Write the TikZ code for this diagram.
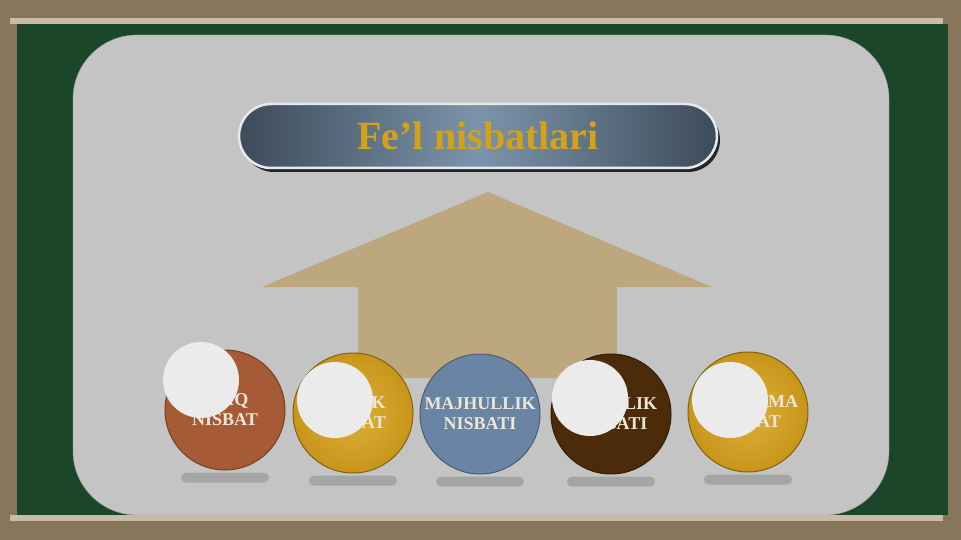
\documentclass[tikz,border=0pt]{standalone}
\usepackage{fontspec}
\setmainfont{Liberation Serif}
\usepackage{tikz}
\usetikzlibrary{shapes.misc,shadows,positioning}

\definecolor{frame}{HTML}{877659}
\definecolor{strip}{HTML}{C9BCA7}
\definecolor{board}{HTML}{1B4629}
\definecolor{paper}{HTML}{C4C4C4}
\definecolor{slate}{HTML}{3D4B59}
\definecolor{steel}{HTML}{7B94AB}
\definecolor{titlegold}{HTML}{D4A218}
\definecolor{arrowtan}{HTML}{BCA77E}
\definecolor{rust}{HTML}{A65A35}
\definecolor{amber}{HTML}{C8951A}
\definecolor{amberlight}{HTML}{DDB03A}
\definecolor{denim}{HTML}{6985A3}
\definecolor{umber}{HTML}{4B2B09}
\definecolor{cream}{HTML}{EEE7D8}
\definecolor{hole}{HTML}{EBEBEB}

\begin{document}
\begin{tikzpicture}[x=1pt,y=-1pt,
		ball/.style={circle, minimum size=120pt, inner sep=0pt, align=center,
			text=cream, font=\bfseries\fontsize{18}{20}\selectfont},
		flatball/.style={ball, fill=#1, draw=#1!70!black, line width=1pt},
		shinyball/.style={ball, inner color=amberlight, outer color=amber, draw=amber!65!black, line width=1pt},
		blob/.style={rounded rectangle, minimum width=88pt, minimum height=10pt, inner sep=0pt,
			fill=black!50, opacity=.45},
		patch/.style={circle, minimum size=76pt, inner sep=0pt, fill=hole},]
	\useasboundingbox (0,0) rectangle (961,540);
	\fill[frame] (0,0) rectangle (961,540);
	\fill[strip] (10,18) rectangle (943,24);
	\fill[strip] (10,515) rectangle (943,521);
	\fill[board] (17,24) rectangle (948,515);
	\draw[fill=paper, draw=gray!75, rounded corners=64pt] (73,35) rectangle (889,515);

	% big arrow behind the balls
	\fill[arrowtan] (488,192) -- (712,287) -- (617,287) -- (617,378) -- (358,378) -- (358,287) -- (262,287) -- cycle;

	\node[rounded rectangle, minimum width=478pt, minimum height=64pt, inner sep=0pt,
		left color=slate, right color=slate, middle color=steel, draw=white!80!steel, line width=2.5pt,
		drop shadow={shadow xshift=3pt, shadow yshift=-4pt, fill=black!85, opacity=1},
		text=titlegold, font=\bfseries\fontsize{40}{44}\selectfont] at (478,136) (title) {Fe’l nisbatlari};

	\node[flatball=rust] at (225,410) (aniq) {ANIQ\\NISBAT};
	\node[shinyball] at (353,413) (ozlik) {O‘ZLIK\\NISBAT};
	\node[flatball=denim] at (480,414) (majhul) {MAJHULLIK\\NISBATI};
	\node[flatball=umber] at (611,414) (birga) {BIRGALIK\\NISBATI};
	\node[shinyball] at (748,412) (orttir) {ORTTIRMA\\NISBAT};

	\node[blob, below=2pt of aniq] (aniqs) {};
	\node[blob, below=2pt of ozlik] (ozliks) {};
	\node[blob, below=2pt of majhul] (majhuls) {};
	\node[blob, below=2pt of birga] (birgas) {};
	\node[blob, below=2pt of orttir] (orttirs) {};

	\node[patch] at (201,380) (p1) {};
	\node[patch] at (335,400) (p2) {};
	\node[patch] at (590,398) (p3) {};
	\node[patch] at (730,400) (p4) {};
\end{tikzpicture}
\end{document}
